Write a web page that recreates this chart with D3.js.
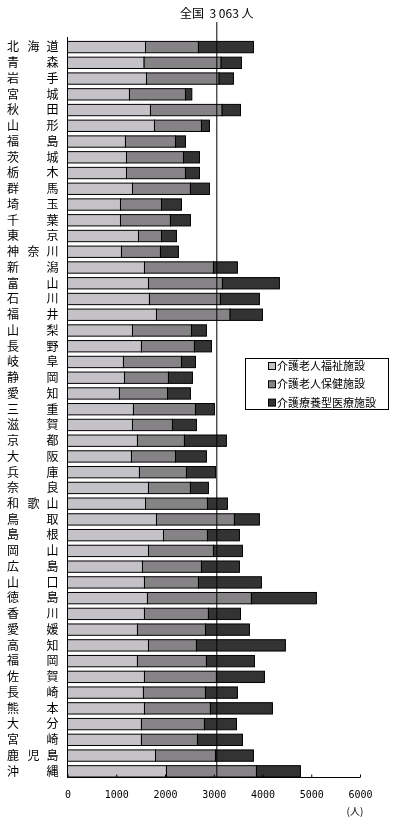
<!DOCTYPE html>
<html>
<head>
<meta charset="utf-8">
<script src="https://cdn.jsdelivr.net/npm/d3@7"></script>
<style>
  body { margin: 0; background: #fff; }
  svg { display: block; will-change: transform; }
</style>
</head>
<body>
<div id="chart"></div>
<script>
// prefectures
var prefs = ["北海道","青森","岩手","宮城","秋田","山形","福島","茨城","栃木","群馬",
  "埼玉","千葉","東京","神奈川","新潟","富山","石川","福井","山梨","長野",
  "岐阜","静岡","愛知","三重","滋賀","京都","大阪","兵庫","奈良","和歌山",
  "鳥取","島根","岡山","広島","山口","徳島","香川","愛媛","高知","福岡",
  "佐賀","長崎","熊本","大分","宮崎","鹿児島","沖縄"];

// 介護老人福祉施設
var fukushi = [1600,1572,1620,1271,1702,1784,1189,1210,1210,1333,
  1087,1087,1456,1107,1579,1661,1681,1825,1333,1517,
  1148,1169,1066,1353,1333,1435,1312,1476,1661,1600,
  1825,1969,1661,1538,1579,1640,1579,1435,1661,1435,
  1579,1558,1579,1517,1517,1805,2030];

// 介護老人保健施設
var hoken = [1086,1579,1490,1149,1470,964,1026,1169,1210,1189,
  841,1025,472,800,1415,1517,1456,1511,1210,1087,
  1190,902,985,1272,820,964,903,964,861,1271,
  1599,902,1333,1210,1107,2133,1312,1395,984,1415,
  1476,1272,1353,1292,1149,1230,1846];

// 介護療養型医療施設
var ryoyo = [1128,417,294,130,376,164,205,328,287,390,
  410,410,307,369,492,1169,800,663,307,349,
  287,492,471,389,492,861,635,595,369,410,
  513,656,595,779,1292,1333,657,902,1825,985,
  985,656,1272,657,923,779,902];

var seriesNames = ["介護老人福祉施設","介護老人保健施設","介護療養型医療施設"];
var colors = ["#c4c2c6","#858385","#333333"];
var xTicks = [0,1000,2000,3000,4000,5000,6000];
var national = 3063;

var width = 395, height = 825;
var font = "'Noto Sans CJK JP', sans-serif";

var svg = d3.select("#chart").append("svg")
  .attr("width", width)
  .attr("height", height);

var x = d3.scaleLinear().domain([0, 6000]).range([67.5, 360]);
var y = d3.scaleBand().domain(prefs).range([37, 777]).paddingInner(0.28).paddingOuter(0.14).align(1);

// build stacked table
var table = prefs.map(function(p, i) {
  return { pref: p, s0: fukushi[i], s1: hoken[i], s2: ryoyo[i] };
});
var stack = d3.stack().keys(["s0","s1","s2"])(table);

svg.selectAll(".layer")
  .data(stack)
  .enter()
  .append("g")
  .attr("fill", function(d, i) { return colors[i]; })
  .selectAll("rect")
  .data(function(d) { return d; })
  .enter()
  .append("rect")
  .attr("x", function(d) { return x(d[0]); })
  .attr("y", function(d) { return y(d.data.pref); })
  .attr("width", function(d) { return x(d[1]) - x(d[0]); })
  .attr("height", y.bandwidth())
  .attr("stroke", "#000")
  .attr("stroke-width", 1);

// x axis with inner ticks
var xAxis = svg.append("g")
  .attr("transform", "translate(0,777.5)")
  .call(d3.axisBottom(x).tickValues(xTicks).tickSize(-3).tickPadding(13).tickFormat(d3.format("d")));
xAxis.select(".domain").attr("stroke", "#000").attr("d", "M" + x(0) + ",0H" + x(6000));
xAxis.selectAll(".tick line").attr("stroke", "#000");
xAxis.selectAll(".tick text")
  .attr("fill", "#000")
  .style("font-family", "'DejaVu Sans Mono', monospace")
  .style("font-size", "10px");

svg.append("text")
  .attr("x", 355)
  .attr("y", 815)
  .attr("text-anchor", "middle")
  .style("font-family", font)
  .style("font-size", "10px")
  .text("(人)");

// y axis line
svg.append("line")
  .attr("x1", 67.5).attr("x2", 67.5)
  .attr("y1", 37).attr("y2", 777.5)
  .attr("stroke", "#000");

// prefecture labels, spread over three slots
var slots = [13, 33.5, 52.5];
prefs.forEach(function(p) {
  var chars = p.split("");
  var pos = chars.length === 3 ? [0, 1, 2] : [0, 2];
  chars.forEach(function(c, k) {
    svg.append("text")
      .attr("x", slots[pos[k]])
      .attr("y", y(p) + y.bandwidth() / 2)
      .attr("dy", "0.36em")
      .attr("text-anchor", "middle")
      .attr("fill", "#000")
      .style("font-family", font)
      .style("font-size", "12px")
      .text(c);
  });
});

// national average line
svg.append("line")
  .attr("x1", x(national)).attr("x2", x(national))
  .attr("y1", 22).attr("y2", 777)
  .attr("stroke", "#000")
  .attr("stroke-width", 1);

svg.append("text")
  .attr("x", x(national))
  .attr("y", 18)
  .attr("text-anchor", "middle")
  .style("font-family", font)
  .style("font-size", "12px")
  .attr("xml:space", "preserve")
  .text("全国  3 063 人");

// legend
var legend = svg.append("g");
legend.append("rect")
  .attr("x", 245.5).attr("y", 358.5)
  .attr("width", 143).attr("height", 51)
  .attr("fill", "#fff")
  .attr("stroke", "#000");

seriesNames.forEach(function(name, i) {
  var ly = 366 + i * 18.3;
  legend.append("rect")
    .attr("x", 268.5).attr("y", ly - 3.5)
    .attr("width", 7).attr("height", 7)
    .attr("fill", colors[i])
    .attr("stroke", "#000");
  legend.append("text")
    .attr("x", 277)
    .attr("y", ly)
    .attr("dy", "0.36em")
    .style("font-family", font)
    .style("font-size", "11px")
    .text(name);
});
</script>
</body>
</html>
